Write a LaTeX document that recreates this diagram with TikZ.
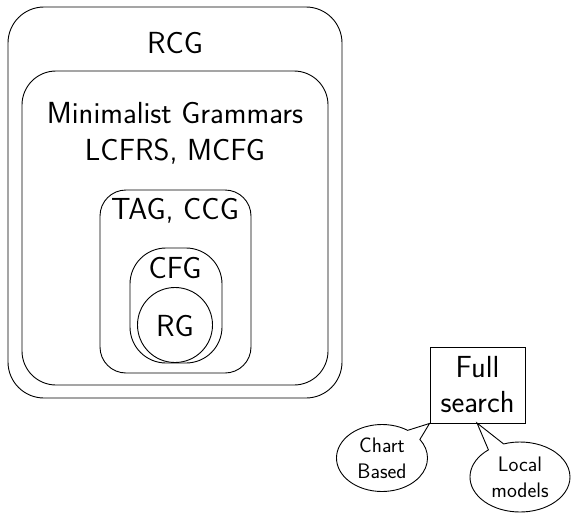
\documentclass[tikz,border=0pt]{standalone}
\usetikzlibrary{shapes.callouts,shapes.geometric}
\begin{document}
\begin{tikzpicture}[x=1pt,y=-1pt,line width=0.9pt,
  big/.style={font=\sffamily\fontsize{30.5}{37}\selectfont,align=center,inner sep=0pt},
  small/.style={font=\sffamily\fontsize{21}{26}\selectfont,align=center,inner sep=0pt}]
\useasboundingbox (0,0) rectangle (571,517);
\draw[rounded corners=36pt] (8,7) rectangle (342,398);
\draw[rounded corners=34pt] (22,71) rectangle (328,385);
\draw[rounded corners=26pt] (100,190) rectangle (251,373);
\draw[rounded corners=36pt] (130,248) rectangle (222,363);
\node[draw,circle,minimum size=75pt,inner sep=0pt] (rg) at (175,325) {};
\node[big] (rcg) at (175,43) {RCG};
\node[big] (mg) at (175,133) {Minimalist Grammars\\LCFRS, MCFG};
\node[big] (tag) at (175,211) {TAG, CCG};
\node[big] (cfg) at (175,268) {CFG};
\node[big] (rgt) at (175,326) {RG};
\node[draw,minimum width=95pt,minimum height=76pt,inner sep=0pt,
  font=\sffamily\fontsize{30.5}{35}\selectfont,align=center] (fs) at (477.5,385) {Full\\search};
\node[draw,ellipse callout,minimum width=91pt,minimum height=67pt,inner sep=0pt,
  callout absolute pointer=(fs.south west),callout pointer arc=22,small] (cb) at (382,458) {Chart\\Based};
\node[draw,ellipse callout,minimum width=100pt,minimum height=70pt,inner sep=0pt,
  callout absolute pointer={(477,423)},callout pointer arc=20,small] (lm) at (520,477) {Local\\models};
\end{tikzpicture}
\end{document}
